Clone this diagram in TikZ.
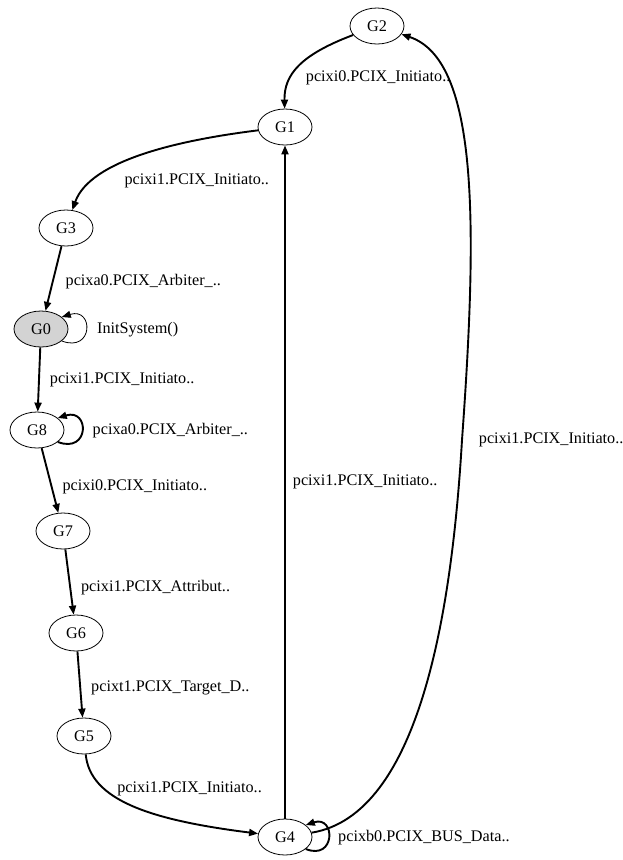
\documentclass[tikz,border=0pt]{standalone}
\usepackage{fontspec}
\setmainfont{Liberation Serif}
\usetikzlibrary{positioning,arrows.meta,shapes.geometric}
\definecolor{initgray}{RGB}{211,211,211}

\begin{document}
\begin{tikzpicture}[
  x=1pt, y=1pt,
  st/.style={ellipse, draw, line width=0.8pt, minimum width=54pt, minimum height=36pt,
             inner sep=0pt, font=\fontsize{16.2}{19}\selectfont},
  lbl/.style={font=\fontsize{16.2}{19}\selectfont, inner sep=0pt},
  tr/.style={line width=#1, -{Triangle[length=9pt,width=7pt]}},
  tr/.default=1.9pt,
]
\useasboundingbox (0,0) rectangle (623,-860);

\node[st] (g2) at (377,-26)  {G2};
\node[st] (g1) at (285,-127) {G1};
\node[st] (g3) at (66,-228)  {G3};
\node[st, fill=initgray] (g0) at (41,-329) {G0};
\node[st] (g8) at (37,-430)  {G8};
\node[st] (g7) at (63,-531)  {G7};
\node[st] (g6) at (76,-633)  {G6};
\node[st] (g5) at (84,-736)  {G5};
\node[st] (g4) at (285,-837) {G4};
\coordinate (rb) at (462,-440);

\draw[tr] (g2) .. controls (300,-55) and (284,-75) .. (g1)
    node[lbl, pos=.65, right=14pt] {pcixi0.PCIX\_Initiato..};
\draw[tr] (g1) .. controls (180,-140) and (90,-160) .. (g3)
    node[lbl, pos=.78, right=30pt] {pcixi1.PCIX\_Initiato..};
\draw[tr] (g3) -- (g0) node[lbl, pos=.55, right=12pt] {pcixa0.PCIX\_Arbiter\_..};
\draw[tr=0.8pt] (g0.-30) .. controls +(32,-12) and +(32,10) .. (g0.30)
    node[lbl, pos=.5, right=11pt] {InitSystem()};
\draw[tr] (g0) -- (g8) node[lbl, pos=.5, right=10pt] {pcixi1.PCIX\_Initiato..};
\draw[tr] (g8.-30) .. controls +(32,-12) and +(32,10) .. (g8.30)
    node[lbl, pos=.5, right=10pt] {pcixa0.PCIX\_Arbiter\_..};
\draw[tr] (g8) -- (g7) node[lbl, pos=.6, right=10pt] {pcixi0.PCIX\_Initiato..};
\draw[tr] (g7) -- (g6) node[lbl, pos=.58, right=10pt] {pcixi1.PCIX\_Attribut..};
\draw[tr] (g6) -- (g5) node[lbl, pos=.55, right=10pt] {pcixt1.PCIX\_Target\_D..};
\draw[tr] (g5) .. controls (90,-800) and (150,-820) .. (g4)
    node[lbl, pos=.3, right=12pt] {pcixi1.PCIX\_Initiato..};
\draw[tr] (g4) -- (g1) node[lbl, pos=.5, right=7pt] {pcixi1.PCIX\_Initiato..};
\draw[tr] (g4) .. controls (420,-815) and (452,-610) .. (rb)
    node[lbl, right=16pt] {pcixi1.PCIX\_Initiato..}
    .. controls (478,-220) and (478,-60) .. (g2);
\draw[tr] (g4.-30) .. controls +(30,-12) and +(30,10) .. (g4.30)
    node[lbl, pos=.5, right=9pt] {pcixb0.PCIX\_BUS\_Data..};
\end{tikzpicture}
\end{document}
